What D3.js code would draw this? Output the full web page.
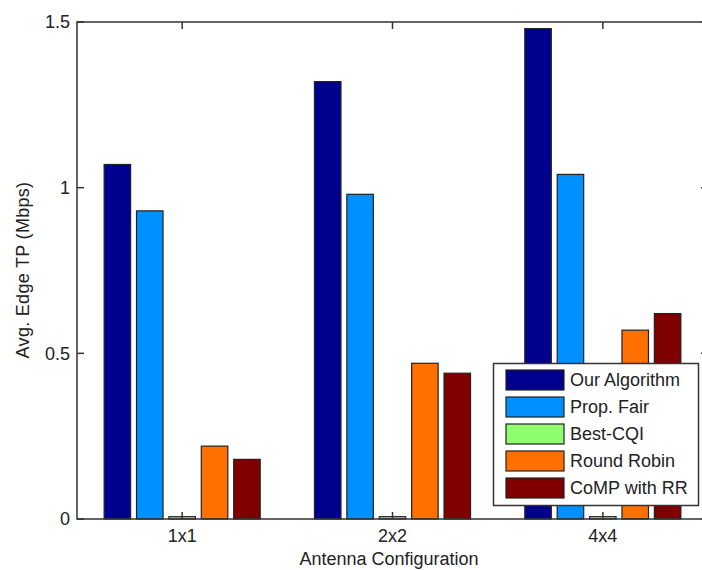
<!DOCTYPE html>
<html><head><meta charset="utf-8">
<script src="https://cdn.jsdelivr.net/npm/d3@7"></script>
<style>
body{margin:0;background:#fff;}
text{font-family:Arial,"Liberation Sans",sans-serif;fill:#222;}
</style></head>
<body><svg id="c" width="702" height="570"></svg>
<script>
const categories = ["1x1","2x2","4x4"];
const seriesNames = ["Our Algorithm","Prop. Fair","Best-CQI","Round Robin","CoMP with RR"];
const seriesColors = ["#00008F","#0090FF","#8FFF70","#FF7000","#800000"];
const ourAlgorithm = [1.07,1.32,1.48];
const propFair = [0.93,0.98,1.04];
const bestCQI = [0.007,0.007,0.007];
const roundRobin = [0.22,0.47,0.57];
const compRR = [0.18,0.44,0.62];
const yTicks = [0,0.5,1,1.5];
const yTickLabels = ["0","0.5","1","1.5"];

const series = [ourAlgorithm,propFair,bestCQI,roundRobin,compRR];
const svg = d3.select("#c");
const L=77, R=708, T=22, B=519;
const x = d3.scaleLinear().domain([0.5,3.5]).range([L,R]);
const y = d3.scaleLinear().domain([0,1.5]).range([B,T]);
const pitch = 0.154, bw = 0.126;
const fs = 18;

// bars
series.forEach((vals,si)=>{
  svg.append("g").selectAll("rect").data(vals).join("rect")
    .attr("x",(d,i)=>x(i+1+(si-2)*pitch-bw/2))
    .attr("width",x(bw)-x(0))
    .attr("y",d=>y(d))
    .attr("height",d=>y(0)-y(d))
    .attr("fill",seriesColors[si])
    .attr("stroke","#222").attr("stroke-width",1.2);
});

// axes
const ax = svg.append("g").attr("stroke","#333").attr("stroke-width",1.5).attr("fill","none");
ax.append("rect").attr("x",L).attr("y",T).attr("width",R-L).attr("height",B-T);
const tl=7;
yTicks.forEach(t=>{
  ax.append("line").attr("x1",L).attr("x2",L+tl).attr("y1",y(t)).attr("y2",y(t));
  ax.append("line").attr("x1",R).attr("x2",R-tl).attr("y1",y(t)).attr("y2",y(t));
});
categories.forEach((c,i)=>{
  ax.append("line").attr("x1",x(i+1)).attr("x2",x(i+1)).attr("y1",B).attr("y2",B-tl);
  ax.append("line").attr("x1",x(i+1)).attr("x2",x(i+1)).attr("y1",T).attr("y2",T+tl);
});
svg.append("g").selectAll("text").data(yTicks).join("text")
  .attr("x",L-7).attr("y",d=>y(d)).attr("dy","0.36em").attr("text-anchor","end")
  .attr("font-size",fs).text((d,i)=>yTickLabels[i]);
svg.append("g").selectAll("text").data(categories).join("text")
  .attr("x",(d,i)=>x(i+1)).attr("y",B+23).attr("text-anchor","middle")
  .attr("font-size",fs).text(d=>d);
svg.append("text").attr("x",389).attr("y",565).attr("text-anchor","middle")
  .attr("font-size",fs).text("Antenna Configuration");
svg.append("text").attr("transform","translate(29,270) rotate(-90)").attr("text-anchor","middle")
  .attr("font-size",fs).attr("letter-spacing",0.3).text("Avg. Edge TP (Mbps)");

// legend
const lg = svg.append("g");
lg.append("rect").attr("x",493.5).attr("y",363.5).attr("width",205).attr("height",142)
  .attr("fill","#fff").attr("stroke","#333").attr("stroke-width",1.5);
seriesNames.forEach((n,i)=>{
  const yy = 370 + i*27;
  lg.append("rect").attr("x",506).attr("y",yy).attr("width",58).attr("height",20)
    .attr("fill",seriesColors[i]).attr("stroke","#222").attr("stroke-width",1.2);
  lg.append("text").attr("x",570).attr("y",yy+10).attr("dy","0.36em")
    .attr("font-size",fs).text(n);
});
</script></body></html>
